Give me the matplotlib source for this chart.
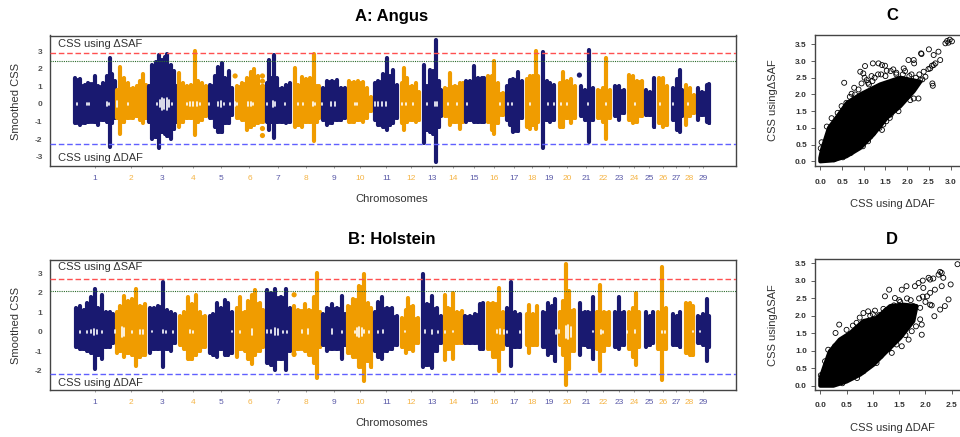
#!/usr/bin/python3

import numpy as np
import matplotlib
matplotlib.use('Agg')
import matplotlib.pyplot as plt

plt.rcParams['font.family'] = ['Liberation Sans', 'DejaVu Sans']
plt.rcParams['axes.unicode_minus'] = False

W, H = 960.0, 437.0
navy = '#191970'
orange = '#f09c00'

chrom_labels = [str(i) for i in range(1, 30)]
chrom_mid = [285, 392, 487, 578, 663, 748, 833, 917, 1001, 1080, 1159, 1232, 1296, 1358, 1422,
             1483, 1543, 1597, 1647, 1702, 1758, 1810, 1858, 1903, 1948, 1989, 2029, 2068, 2109]
chrom_edges = [345, 440, 532, 622, 700, 793, 875, 962, 1040, 1118, 1200, 1262, 1327, 1390, 1455,
               1512, 1572, 1620, 1672, 1733, 1785, 1837, 1878, 1930, 1968, 2010, 2050, 2088]

# panel A, one row per chromosome
a_x = [225, 240, 255, 265, 285, 295, 310, 322, 330, 337, 344,
       350, 360, 372, 385, 398, 410, 420, 430, 437,
       447, 457, 468, 476, 485, 495, 502, 512, 522, 529,
       538, 548, 560, 572, 585, 595, 605, 618,
       630, 645, 655, 665, 675, 686, 696,
       710, 725, 740, 752, 762, 775, 788,
       800, 806, 815, 822, 832, 845, 858, 870,
       885, 895, 905, 918, 930, 941, 950, 958,
       970, 982, 995, 1010, 1022, 1035,
       1048, 1062, 1075, 1088, 1100, 1113,
       1125, 1135, 1148, 1160, 1170, 1180, 1192,
       1206, 1212, 1222, 1235, 1248, 1258,
       1271, 1280, 1290, 1298, 1307, 1316, 1324,
       1335, 1350, 1365, 1380, 1388,
       1397, 1410, 1421, 1435, 1445, 1452,
       1465, 1475, 1483, 1495, 1508,
       1520, 1530, 1540, 1553, 1565,
       1580, 1590, 1600, 1608, 1615,
       1628, 1640, 1650, 1662,
       1680, 1690, 1700, 1712, 1725,
       1742, 1755, 1766, 1778,
       1795, 1808, 1819, 1830,
       1845, 1858, 1872,
       1888, 1900, 1912, 1925,
       1938, 1950, 1962,
       1976, 1988, 2000,
       2018, 2030, 2040, 2047,
       2058, 2070, 2083,
       2095, 2107, 2120, 2128]
a_up = [1.5, 1.4, 1.1, 1.2, 1.6, 1.0, 1.2, 1.6, 2.65, 1.7, 1.3,
        0.8, 2.1, 1.5, 1.2, 0.9, 1.0, 1.3, 1.7, 1.1,
        1.0, 2.2, 2.4, 2.8, 2.5, 2.7, 2.85, 2.2, 1.9, 1.0,
        1.75, 1.2, 1.0, 1.1, 3.0, 1.3, 1.2, 1.0,
        1.1, 1.6, 2.1, 2.35, 1.5, 1.9, 0.9,
        1.0, 1.2, 1.5, 1.8, 2.0, 1.6, 1.0,
        1.2, 2.5, 1.5, 2.8, 1.5, 0.9, 1.1, 1.2,
        2.05, 1.1, 1.55, 1.4, 1.5, 2.85, 1.0, 1.0,
        0.9, 1.3, 1.3, 1.35, 0.9, 0.9,
        1.3, 1.25, 1.3, 1.25, 0.9, 0.4,
        1.2, 1.3, 1.7, 2.65, 1.6, 1.95, 1.1,
        1.2, 2.05, 1.5, 1.0, 1.2, 0.7,
        2.25, 1.0, 1.95, 1.9, 3.65, 1.3, 0.8,
        0.9, 1.75, 1.0, 1.2, 1.2,
        1.3, 1.3, 2.15, 1.5, 1.5, 1.5,
        1.6, 1.6, 2.45, 1.2, 0.6,
        1.0, 1.35, 1.4, 1.85, 1.3,
        1.4, 1.6, 1.6, 3.0, 1.6,
        2.95, 1.3, 1.2, 1.1,
        1.2, 1.85, 1.3, 1.4, 1.0,
        1.0, 0.8, 3.1, 0.9,
        0.8, 0.9, 2.65, 0.8,
        1.0, 1.05, 0.8,
        1.65, 1.6, 1.3, 1.3,
        0.8, 0.7, 1.5,
        1.5, 1.5, 1.0,
        0.9, 1.4, 1.95, 0.8,
        1.1, 0.9, 0.5,
        0.9, 0.7, 1.1, 1.15]
a_lo = [-1.1, -1.2, -1.1, -1.0, -1.0, -1.2, -0.9, -1.0, -2.45, -1.1, -0.8,
        -0.8, -1.7, -1.0, -0.8, -0.8, -0.7, -0.9, -1.1, -0.8,
        -1.0, -2.0, -1.9, -2.5, -1.6, -1.7, -1.8, -2.0, -1.4, -1.0,
        -1.3, -1.0, -0.8, -0.8, -1.75, -1.0, -0.9, -0.7,
        -0.8, -1.3, -1.6, -1.6, -1.1, -1.1, -0.6,
        -0.8, -0.9, -1.5, -1.3, -1.2, -1.1, -1.0,
        -1.0, -1.5, -1.0, -1.95, -1.0, -1.0, -1.1, -1.0,
        -1.3, -1.2, -1.3, -1.0, -1.0, -2.1, -1.0, -0.8,
        -0.9, -1.2, -1.1, -0.9, -0.9, -0.8,
        -1.0, -1.0, -0.9, -1.0, -0.8, -0.4,
        -0.9, -1.2, -1.3, -1.5, -1.2, -1.1, -0.8,
        -1.1, -1.5, -1.0, -0.9, -1.0, -0.9,
        -2.2, -1.5, -1.6, -1.7, -3.3, -1.3, -0.7,
        -0.7, -1.2, -1.0, -1.4, -1.0,
        -1.0, -0.9, -1.0, -1.0, -1.0, -1.0,
        -1.0, -1.5, -1.7, -1.1, -0.6,
        -0.9, -1.2, -1.6, -1.55, -0.8,
        -1.3, -1.4, -1.2, -1.4, -1.0,
        -2.5, -0.9, -1.0, -0.9,
        -1.3, -1.3, -0.8, -1.1, -0.8,
        -0.7, -0.9, -2.15, -0.9,
        -0.8, -1.0, -2.0, -0.8,
        -0.7, -0.9, -0.5,
        -0.9, -1.1, -1.0, -0.7,
        -0.6, -0.6, -1.3,
        -1.1, -1.3, -1.2,
        -0.9, -1.5, -1.6, -0.7,
        -1.2, -0.7, -0.5,
        -0.9, -0.6, -1.0, -1.1]
a_pts_x = [705, 787, 787, 787, 787, 787, 1738]
a_pts_y = [1.6, 1.6, 1.3, 1.0, -1.4, -1.8, 1.65]
a_hole_x = [232, 262, 268, 320, 328, 352, 385, 470, 480, 487, 493, 500, 507, 515, 560, 570, 578, 590, 600,
            628, 655, 662, 672, 690, 705, 712, 745, 752, 760, 800, 820, 826, 855, 895, 910, 938, 945, 965,
            993, 1005, 1065, 1072, 1125, 1135, 1145, 1158, 1205, 1218, 1240, 1282, 1305, 1312, 1345, 1372,
            1400, 1500, 1525, 1535, 1590, 1645, 1662, 1682, 1702, 1765, 1818, 1905, 1980, 2020, 2065]
a_hole_h = [.04, .08, .08, .1, .08, .15, .03, .06, .2, .35, .3, .35, .2, .08, .08, .12, .12, .1, .05,
            .08, .12, .15, .08, .05, .1, .05, .1, .12, .06, .05, .15, .1, .06, .05, .08, .1, .05, .05,
            .1, .1, .08, .06, .1, .12, .12, .1, .05, .08, .06, .08, .12, .1, .08, .06,
            .05, .06, .05, .05, .08, .06, .05, .05, .05, .05, .05, .05, .05, .05, .04]

# panel B
b_x = [228, 240, 252, 262, 272, 285, 295, 307, 318, 330, 340,
       350, 360, 372, 385, 396, 408, 420, 435,
       450, 462, 475, 488, 500, 513, 526,
       540, 552, 563, 575, 588, 600, 615,
       630, 640, 650, 662, 674, 685, 695,
       710, 720, 735, 745, 755, 766, 780, 790,
       800, 812, 826, 842, 858, 870,
       882, 895, 915, 928, 942, 952, 960,
       970, 982, 995, 1010, 1025, 1035,
       1045, 1060, 1078, 1092, 1103, 1114,
       1125, 1133, 1146, 1160, 1175, 1192,
       1205, 1218, 1224, 1238, 1255,
       1270, 1282, 1296, 1310, 1322,
       1335, 1345, 1358, 1372, 1385,
       1395, 1410, 1425, 1440, 1450,
       1465, 1480, 1498, 1508,
       1520, 1532, 1545, 1560,
       1580, 1586, 1600, 1612,
       1630, 1643, 1655, 1666,
       1680, 1690, 1698, 1708, 1722,
       1740, 1755, 1765, 1778,
       1790, 1800, 1812, 1828,
       1845, 1858, 1872,
       1888, 1898, 1907, 1918,
       1938, 1950, 1960,
       1975, 1986, 1998,
       2018, 2030, 2040,
       2058, 2070, 2080,
       2095, 2108, 2120, 2128]
b_up = [1.2, 1.3, 1.1, 1.5, 1.8, 2.2, 1.2, 1.9, 1.0, 1.0, 0.9,
        1.0, 1.3, 1.85, 1.6, 1.7, 2.2, 1.3, 1.4,
        1.2, 1.2, 1.3, 2.55, 1.1, 1.0, 0.9,
        0.8, 1.0, 1.8, 1.4, 1.9, 1.0, 0.8,
        0.8, 0.9, 1.5, 1.2, 1.65, 1.5, 1.0,
        1.2, 1.8, 1.0, 1.6, 1.9, 2.15, 1.5, 1.1,
        2.15, 2.0, 2.2, 1.8, 2.2, 1.2,
        1.3, 1.1, 1.4, 1.1, 1.8, 3.0, 1.0,
        0.9, 1.2, 1.4, 1.2, 1.85, 0.9,
        1.3, 1.7, 2.35, 2.95, 1.5, 1.2,
        1.0, 1.55, 1.8, 1.2, 1.2, 0.8,
        0.7, 1.1, 1.75, 1.3, 0.7,
        2.95, 1.4, 1.85, 1.2, 0.8,
        1.9, 1.2, 2.0, 1.0, 1.05,
        0.8, 0.8, 0.9, 1.4, 1.5,
        1.5, 1.5, 2.25, 1.0,
        1.2, 2.55, 1.0, 0.9,
        0.9, 1.35, 0.9, 1.3,
        1.0, 1.5, 1.3, 1.7,
        1.0, 1.6, 3.5, 2.1, 1.1,
        1.5, 1.0, 1.0, 1.8,
        1.0, 2.4, 1.0, 1.0,
        1.0, 1.8, 1.0,
        1.0, 1.2, 2.0, 1.0,
        1.0, 0.8, 1.0,
        1.0, 3.35, 1.2,
        0.9, 0.8, 1.0,
        1.5, 1.5, 1.3,
        0.8, 0.9, 1.7, 0.8]
b_lo = [-0.8, -0.9, -0.9, -1.0, -1.1, -1.9, -1.2, -1.4, -0.8, -0.8, -0.6,
        -1.1, -1.0, -1.3, -1.1, -1.2, -1.75, -1.3, -1.2,
        -1.1, -0.9, -0.9, -1.8, -0.9, -1.0, -0.6,
        -0.7, -0.9, -1.4, -1.4, -1.2, -1.0, -0.8,
        -1.1, -1.2, -1.3, -0.9, -1.2, -1.2, -1.1,
        -1.3, -0.9, -1.0, -1.4, -1.65, -1.2, -1.0, -0.8,
        -1.6, -1.7, -1.95, -1.4, -1.95, -1.0,
        -1.2, -0.9, -1.0, -1.2, -1.6, -2.35, -0.8,
        -0.7, -1.0, -0.9, -0.9, -1.4, -0.7,
        -1.1, -1.3, -1.8, -2.55, -1.5, -1.8,
        -1.0, -1.3, -1.4, -1.0, -0.9, -0.7,
        -0.8, -1.1, -0.9, -1.0, -0.6,
        -1.8, -1.7, -1.85, -1.0, -0.6,
        -1.45, -0.9, -1.4, -0.6, -0.6,
        -0.6, -0.6, -0.6, -0.9, -0.9,
        -0.9, -1.3, -2.0, -0.9,
        -0.7, -1.75, -0.8, -0.8,
        -0.7, -1.1, -0.7, -0.7,
        -0.8, -1.2, -1.1, -1.5,
        -0.7, -1.2, -2.75, -1.9, -1.0,
        -1.2, -0.7, -0.8, -1.4,
        -0.9, -2.0, -1.0, -0.7,
        -0.8, -0.9, -0.7,
        -0.9, -1.3, -1.7, -0.8,
        -0.8, -0.7, -0.6,
        -0.9, -2.5, -0.9,
        -0.7, -0.7, -0.8,
        -1.1, -1.2, -1.2,
        -0.6, -0.7, -1.5, -0.8]
b_pts_x = [882, 882]
b_pts_y = [1.9, -1.15]
b_hole_x = [240, 262, 272, 281, 290, 305, 345, 365, 372, 395, 420, 430, 455, 490, 497, 520, 570, 578, 695, 720,
            755, 800, 812, 825, 835, 850, 862, 905, 925, 995, 1025, 1065, 1072, 1078, 1085, 1092, 1108, 1135,
            1148, 1215, 1275, 1295, 1315, 1335, 1360, 1490, 1500, 1512, 1520, 1560, 1570, 1668, 1678, 1698,
            1705, 1712, 1780, 1802, 1808, 1880, 1905, 1985, 1995, 2080, 2100]
b_hole_h = [.04, .05, .08, .15, .1, .05, .08, .25, .2, .06, .1, .1, .03, .08, .05, .04, .07, .05, .03, .04,
            .15, .08, .08, .17, .15, .06, .05, .08, .12, .12, .05, .06, .2, .25, .2, .08, .05, .05,
            .07, .03, .08, .1, .05, .04, .03, .07, .12, .1, .04, .06, .05, .1, .08, .3,
            .35, .25, .03, .1, .05, .04, .07, .05, .04, .03, .03]

# panel C scatter: outline of the solid cloud, then the separate circles
c_blob_x = [0.0, 0.3, 0.6, 0.92, 1.22, 1.53, 1.84, 2.15, 2.3, 1.84, 1.38, 0.92, 0.62, 0.4, 0.2, 0.04, 0.0]
c_blob_y = [0.0, 0.03, 0.15, 0.4, 0.8, 1.3, 1.65, 2.1, 2.38, 2.5, 2.3, 2.0, 1.75, 1.35, 1.0, 0.35, 0.1]
c_x = [2.92, 2.98, 3.03, 2.88, 2.95, 2.5, 2.32, 2.33, 2.72, 2.61, 2.76, 2.65, 2.61, 2.57, 2.53, 2.49, 2.58, 2.59,
       0.55, 1.03, 1.21, 1.34, 1.42, 1.49, 0.92, 0.99, 2.03, 2.15, 2.16, 1.92, 1.68, 1.53, 1.18, 1.07, 0.95, 0.88,
       0.68, 0.49, 0.26, 0.15, 0.03, 0.01, 1.42, 1.15, 0.84, 2.15, 2.26, 2.07, 2.42, 2.3, 2.15, 2.38, 1.99, 1.84,
       1.68, 1.3, 1.1, 1.25, 1.4, 0.8, 0.6, 0.4, 1.75, 1.9, 2.05, 1.8, 1.6, 1.45, 1.0,
       0.72, 0.78, 1.02, 1.12, 1.2, 1.33, 1.5, 1.62, 1.75, 1.95, 2.1, 2.2, 2.28, 2.35,
       2.0, 1.9, 1.76, 1.62, 1.52, 1.36, 1.22, 1.1, 0.98, 0.7, 0.52, 0.32]
c_y = [3.6, 3.64, 3.59, 3.53, 3.55, 3.35, 3.23, 3.21, 3.28, 3.18, 3.03, 2.93, 2.88, 2.86, 2.78, 2.76, 2.33, 2.26,
       2.35, 2.85, 2.93, 2.93, 2.88, 2.86, 2.68, 2.63, 3.03, 3.03, 2.93, 2.78, 2.75, 2.71, 2.55, 2.43, 2.33, 2.15,
       1.93, 1.65, 1.29, 1.04, 0.57, 0.39, 0.94, 0.74, 0.54, 1.88, 1.88, 1.83, 2.53, 2.43, 2.38, 2.68, 2.03, 1.73,
       1.54, 1.14, 2.35, 2.5, 2.6, 2.0, 1.75, 1.45, 2.65, 2.6, 2.55, 1.5, 1.3, 1.1, 0.65,
       2.02, 2.2, 2.5, 2.3, 2.4, 2.6, 2.55, 2.7, 2.6, 2.7, 2.6, 2.5, 2.6, 2.45,
       1.95, 1.8, 1.7, 1.4, 1.2, 1.0, 0.85, 0.6, 0.45, 0.25, 0.12, 0.06]

# panel D scatter
d_blob_x = [0.0, 0.25, 0.5, 0.76, 1.01, 1.26, 1.52, 1.77, 1.83, 1.58, 1.33, 1.07, 0.82, 0.57, 0.37, 0.18, 0.09, 0.0]
d_blob_y = [0.0, 0.0, 0.12, 0.32, 0.6, 0.98, 1.37, 1.85, 2.28, 2.32, 2.28, 1.94, 1.85, 1.51, 1.32, 0.98, 0.6, 0.2]
d_x = [2.61, 2.31, 2.28, 2.25, 2.34, 2.09, 2.06, 2.15, 1.95, 1.87, 1.8, 1.96, 1.64, 1.55, 1.31, 1.23, 1.42,
       2.48, 2.31, 2.18, 2.09, 2.03, 2.44, 2.37, 2.28, 2.17, 1.93, 1.93, 1.74, 1.68, 1.55, 0.36, 0.29, 0.69,
       0.82, 0.91, 1.04, 0.15, 0.28, 0.01, 0.09, 1.77, 1.9, 2.09, 1.36, 1.07, 0.82, 1.5, 1.65, 1.95, 1.2, 1.0,
       0.5, 0.62, 0.75, 0.95, 1.12, 1.25, 1.4, 1.52, 1.72, 1.88, 2.0, 2.12,
       1.9, 1.82, 1.62, 1.45, 1.3, 1.15, 0.92, 0.7, 0.42]
d_y = [3.48, 3.23, 3.26, 3.18, 3.09, 3.04, 3.09, 3.07, 3.01, 2.94, 2.85, 2.8, 2.85, 2.75, 2.75, 2.56, 2.51,
       2.9, 2.85, 2.75, 2.66, 2.56, 2.47, 2.28, 2.18, 1.99, 1.75, 1.46, 1.56, 1.32, 1.13, 1.75, 1.51, 1.8,
       2.08, 2.13, 2.15, 1.03, 1.13, 0.3, 0.7, 2.28, 2.23, 2.32, 0.94, 0.65, 0.41, 2.45, 2.5, 2.55, 2.2, 2.05,
       1.6, 1.72, 1.95, 2.0, 2.02, 2.15, 2.3, 2.4, 2.45, 2.5, 2.4, 2.3,
       1.9, 1.7, 1.45, 1.18, 1.05, 0.85, 0.55, 0.22, 0.07]

fig = plt.figure(figsize=(9.6, 4.37), dpi=100)
fig.patch.set_facecolor('white')


def add_axes(left, top, right, bottom):
    return fig.add_axes([left / W, 1 - bottom / H, (right - left) / W, (bottom - top) / H])


def px_text(x, y, s, **kw):
    fig.text(x / W, 1 - y / H, s, ha=kw.pop('ha', 'center'), va='center', **kw)


def chrom_color(x):
    return navy if np.searchsorted(chrom_edges, x) % 2 == 0 else orange


def manhattan(ax, x, up, lo, pts_x, pts_y, hole_x, hole_h, lines, ylim, yticks):
    x = np.array(x)
    up = np.array(up)
    lo = np.array(lo)
    colors = [chrom_color(v) for v in x]
    chrom = np.searchsorted(chrom_edges, x)
    # body between neighbouring columns only reaches the shorter one, so peaks stay narrow
    for i in np.unique(chrom):
        m = chrom == i
        xm, um, lm = x[m], up[m], lo[m]
        c = navy if i % 2 == 0 else orange
        ub = np.append(np.minimum(um[:-1], um[1:]), um[-1])
        lb = np.append(np.maximum(lm[:-1], lm[1:]), lm[-1])
        ax.fill_between(xm, lb, ub, step='post', color=c, lw=2.0, zorder=2)
    ax.vlines(x, lo, up, colors=colors, lw=3.0, capstyle='round', zorder=2)
    ax.scatter(pts_x, pts_y, s=14, c=[chrom_color(v) for v in pts_x], linewidths=0, zorder=2)
    ax.vlines(hole_x, -np.array(hole_h), hole_h, colors='white', lw=1.2, capstyle='round', zorder=3)
    red, green, blue = lines
    ax.axhline(red, color='#ff5050', lw=1.0, dashes=(4, 2), zorder=4)
    ax.axhline(green, color='#2a6a2a', lw=0.8, dashes=(1, 1), zorder=4)
    ax.axhline(blue, color='#6060ff', lw=1.0, dashes=(4, 2), zorder=4)
    ax.set_xlim(148, 2207)
    ax.set_ylim(*ylim)
    ax.set_yticks(yticks)
    ax.set_xticks(chrom_mid)
    ax.set_xticklabels(chrom_labels)
    ax.tick_params(axis='y', length=0, pad=5, labelsize=6, labelcolor='#555555')
    ax.tick_params(axis='x', length=1.5, width=0.5, color='#777777', pad=5, labelsize=6)
    for lab, v in zip(ax.get_xticklabels(), chrom_mid):
        c = chrom_color(v)
        lab.set_color('#5a5aa8' if c == navy else '#f5b445')
    for lab in ax.get_yticklabels():
        lab.set_fontweight('bold')
    for s in ax.spines.values():
        s.set_color('#444444')
        s.set_linewidth(1.0)


def cloud(ax, blob_x, blob_y, x, y, xlim, ylim, xticks, yticks):
    ax.fill(blob_x, blob_y, color='black', lw=3, joinstyle='round', zorder=2)
    ax.scatter(x, y, s=13, facecolors='none', edgecolors='black', linewidths=0.6, zorder=3)
    ax.set_xlim(*xlim)
    ax.set_ylim(*ylim)
    ax.set_xticks(xticks)
    ax.set_yticks(yticks)
    ax.xaxis.set_major_formatter('{x:.1f}')
    ax.yaxis.set_major_formatter('{x:.1f}')
    ax.tick_params(length=3, width=0.6, color='#444444', labelsize=6, labelcolor='#333333')
    ax.tick_params(axis='x', pad=6)
    ax.tick_params(axis='y', pad=3)
    for lab in ax.get_xticklabels() + ax.get_yticklabels():
        lab.set_fontweight('bold')
    ax.spines['right'].set_visible(False)
    for s in ['left', 'top', 'bottom']:
        ax.spines[s].set_color('#444444')
        ax.spines[s].set_linewidth(1.0)


ax_a = add_axes(49.5, 35.5, 735.7, 166)
manhattan(ax_a, a_x, a_up, a_lo, a_pts_x, a_pts_y, a_hole_x, a_hole_h, (2.9, 2.45, -2.28),
          (-3.54, 3.91), [-3, -2, -1, 0, 1, 2, 3])
ax_b = add_axes(49.5, 259.5, 735.7, 390)
manhattan(ax_b, b_x, b_up, b_lo, b_pts_x, b_pts_y, b_hole_x, b_hole_h, (2.72, 2.07, -2.15),
          (-2.99, 3.71), [-2, -1, 0, 1, 2, 3])

ax_c = add_axes(815.3, 35.3, 968, 166)
cloud(ax_c, c_blob_x, c_blob_y, c_x, c_y, (-0.115, 3.4), (-0.14, 3.77),
      [0, 0.5, 1, 1.5, 2, 2.5, 3], [0, 0.5, 1, 1.5, 2, 2.5, 3, 3.5])
ax_d = add_axes(815.3, 259.3, 968, 389.7)
cloud(ax_d, d_blob_x, d_blob_y, d_x, d_y, (-0.095, 2.81), (-0.115, 3.62),
      [0, 0.5, 1, 1.5, 2, 2.5], [0, 0.5, 1, 1.5, 2, 2.5, 3, 3.5])

text_color = '#333333'
px_text(392, 16, 'A: Angus', fontsize=12, fontweight='bold', color='black')
px_text(392, 240, 'B: Holstein', fontsize=12, fontweight='bold', color='black')
px_text(892, 16, 'C', fontsize=12, fontweight='bold', color='black')
px_text(892, 240, 'D', fontsize=12, fontweight='bold', color='black')
for y in (199, 423):
    px_text(392, y, 'Chromosomes', fontsize=8, color=text_color)
for y in (101, 325):
    px_text(16, y, 'Smoothed CSS', fontsize=8, rotation=90, color=text_color)
px_text(58, 44, 'CSS using \u0394SAF', fontsize=8, ha='left', color=text_color)
px_text(58, 158, 'CSS using \u0394DAF', fontsize=8, ha='left', color=text_color)
px_text(58, 267, 'CSS using \u0394SAF', fontsize=8, ha='left', color=text_color)
px_text(58, 383, 'CSS using \u0394DAF', fontsize=8, ha='left', color=text_color)
for y in (204, 428):
    px_text(892, y, 'CSS using \u0394DAF', fontsize=8, color=text_color)
for y in (100, 325):
    px_text(773, y, 'CSS using\u0394SAF', fontsize=8, rotation=90, color=text_color)

plt.savefig('out.png', dpi=100)
